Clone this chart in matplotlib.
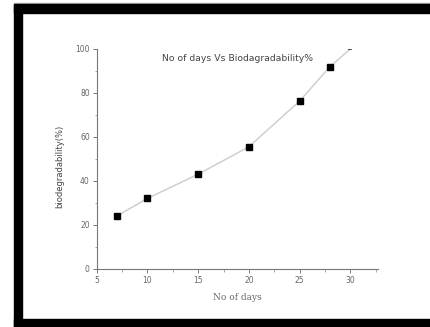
import matplotlib.pyplot as plt
from matplotlib.patches import Rectangle

days = [7, 10, 15, 20, 25, 28, 30]
biodeg = [24, 32, 43, 55.5, 76.3, 92, 100]

x_ticks = [5, 10, 15, 20, 25, 30]
y_ticks = [0, 20, 40, 60, 80, 100]

W, H = 430, 327
fig = plt.figure(figsize=(W / 100, H / 100), dpi=100)

# black picture frame (open on the right)
def px_rect(x0, y0, x1, y1, color):
    fig.patches.append(Rectangle((x0 / W, 1 - y1 / H), (x1 - x0) / W, (y1 - y0) / H,
                                 transform=fig.transFigure, color=color, zorder=0))

px_rect(14, 3.5, W, 4.5, "#b0b0b0")
px_rect(14, 4.5, W, 12.5, "black")
px_rect(14, 4.5, 22.3, H, "black")
px_rect(14, 319, W, H, "black")

ax = fig.add_axes([96.7 / W, 1 - 268.7 / H, (377.7 - 96.7) / W, (268.7 - 49) / H])
ax.patch.set_alpha(0)

ax.plot(days, biodeg, color="#cfcfcf", lw=1.1, zorder=2)
ax.plot(days[:-1], biodeg[:-1], ls="none", marker="s", ms=3.8, color="black", zorder=3)
# last point sits on the top edge, drawn as a short dash
ax.plot(days[-1:], biodeg[-1:], ls="none", marker="_", ms=3, mew=1.2, color="#333333", zorder=3)

ax.set_xlim(5, 32.7)
ax.set_ylim(0, 100)
ax.set_xticks(x_ticks)
ax.set_yticks(y_ticks)
ax.set_xticks([7.5, 12.5, 17.5, 22.5, 27.5, 32.5], minor=True)
ax.set_yticks([10, 30, 50, 70, 90], minor=True)

for s in ("top", "right"):
    ax.spines[s].set_visible(False)
for s in ("left", "bottom"):
    ax.spines[s].set_color("#777777")
    ax.spines[s].set_linewidth(0.8)

ax.tick_params(which="major", direction="out", length=3, width=0.7, color="#777777",
               labelsize=5.5, labelcolor="#666666", pad=2)
ax.tick_params(which="minor", direction="out", length=1.8, width=0.6, color="#999999")

ax.text(0.5, 0.955, "No of days Vs Biodagradability%", transform=ax.transAxes,
        ha="center", va="center", fontsize=6.7, color="#444444")

ax.set_xlabel("No of days", fontsize=6.5, color="#666666", family="DejaVu Serif", labelpad=6)
ax.set_ylabel("biodegradability(%)", fontsize=6, color="#444444")
ax.yaxis.set_label_coords(-0.115, 0.467)

fig.savefig("out.png", dpi=100)
